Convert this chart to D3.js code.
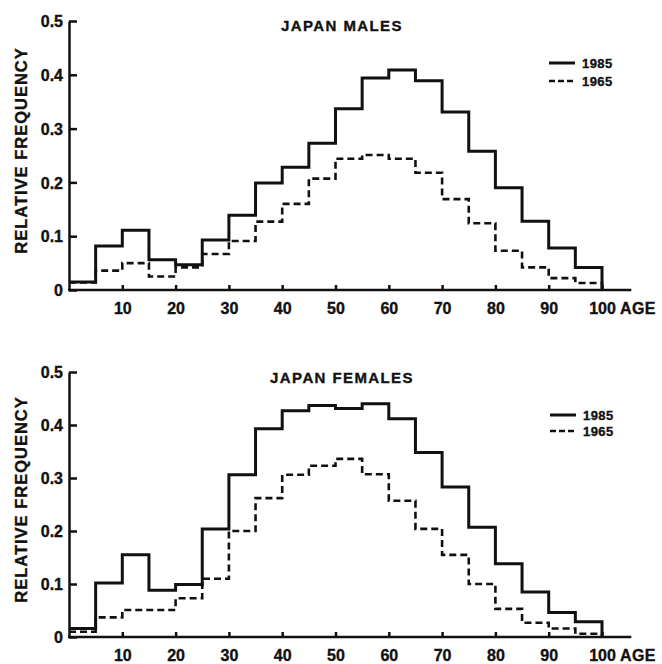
<!DOCTYPE html>
<html>
<head>
<meta charset="utf-8">
<script src="https://cdn.jsdelivr.net/npm/d3@7/dist/d3.min.js"></script>
<style>
  html, body { margin: 0; padding: 0; background: #fff; }
  svg text { font-family: "Liberation Sans", Arial, Helvetica, sans-serif; font-weight: bold;
             fill: #111; stroke: #111; stroke-width: 0.35px; }
</style>
</head>
<body>
<div id="chart"></div>
<script>
// age groups, left edge of each 5-year bin
const ageBins = [0, 5, 10, 15, 20, 25, 30, 35, 40, 45, 50, 55, 60, 65, 70, 75, 80, 85, 90, 95];
const binWidth = 5;

const years = ['1985', '1965'];

const males1985 = [0.015, 0.082, 0.111, 0.056, 0.047, 0.093, 0.139, 0.199, 0.228, 0.273,
                   0.337, 0.394, 0.409, 0.389, 0.331, 0.258, 0.190, 0.128, 0.078, 0.042];
const males1965 = [0.014, 0.036, 0.050, 0.025, 0.042, 0.067, 0.091, 0.127, 0.160, 0.207,
                   0.244, 0.251, 0.244, 0.218, 0.169, 0.124, 0.073, 0.042, 0.022, 0.013];

const females1985 = [0.016, 0.102, 0.155, 0.088, 0.099, 0.204, 0.306, 0.393, 0.427, 0.437,
                     0.431, 0.440, 0.412, 0.348, 0.283, 0.207, 0.138, 0.085, 0.046, 0.029];
const females1965 = [0.010, 0.037, 0.051, 0.051, 0.073, 0.110, 0.200, 0.262, 0.306, 0.323,
                     0.336, 0.307, 0.257, 0.204, 0.155, 0.100, 0.053, 0.027, 0.016, 0.006];

const yTicks = [0, 0.1, 0.2, 0.3, 0.4, 0.5];
const yTickLabels = ['0', '0.1', '0.2', '0.3', '0.4', '0.5'];
const xTicks = [10, 20, 30, 40, 50, 60, 70, 80, 90, 100];
const xTickLabels = ['10', '20', '30', '40', '50', '60', '70', '80', '90', '100'];

const W = 662, H = 664;
const svg = d3.select('#chart').append('svg')
  .attr('width', W).attr('height', H)
  .attr('viewBox', `0 0 ${W} ${H}`);

const x = d3.scaleLinear().domain([0, 100]).range([69, 602]);
const axisEnd = 105.5;

const panels = [
  { title: 'JAPAN MALES', data: [males1985, males1965], top: 21, bottom: 290,
    titleY: 31, legendY: [63, 81], legendX: 549 },
  { title: 'JAPAN FEMALES', data: [females1985, females1965], top: 372, bottom: 637,
    titleY: 383, legendY: [415, 431], legendX: 550 }
];

panels.forEach(p => {
  const g = svg.append('g');
  const y = d3.scaleLinear().domain([0, 0.5]).range([p.bottom, p.top]);

  // y axis, ticks pointing inward
  const yAxis = g.append('g').attr('transform', `translate(${x(0)},0)`)
    .call(d3.axisLeft(y).tickValues(yTicks).tickSize(-8).tickSizeOuter(0).tickPadding(6)
      .tickFormat((d, i) => yTickLabels[i]));
  yAxis.select('.domain').attr('stroke', '#111').attr('stroke-width', 2.5);
  yAxis.selectAll('line').attr('stroke', '#111').attr('stroke-width', 2.5);
  yAxis.selectAll('text').style('font-size', '16px').attr('dy', '0.36em');

  // x axis, ticks pointing up
  const xAxis = g.append('g').attr('transform', `translate(0,${p.bottom})`)
    .call(d3.axisBottom(x).tickValues(xTicks).tickSize(-5).tickSizeOuter(0).tickPadding(13)
      .tickFormat((d, i) => xTickLabels[i]));
  xAxis.select('.domain').remove();
  xAxis.selectAll('line').attr('stroke', '#111').attr('stroke-width', 2.5);
  xAxis.selectAll('text').style('font-size', '16px');
  g.append('line')
    .attr('x1', x(0) - 1).attr('x2', x(axisEnd))
    .attr('y1', p.bottom).attr('y2', p.bottom)
    .attr('stroke', '#111').attr('stroke-width', 2.5);
  g.append('text').text('AGE')
    .attr('x', x(100) + 18).attr('y', p.bottom + 13).attr('dy', '0.71em')
    .style('font-size', '16px').style('letter-spacing', '0.4px');

  // axis title
  g.append('text').text('RELATIVE FREQUENCY')
    .attr('transform', `translate(27,${(p.top + p.bottom) / 2 - 5}) rotate(-90)`)
    .attr('text-anchor', 'middle')
    .style('font-size', '16.5px').style('letter-spacing', '1px');

  // panel title
  g.append('text').text(p.title)
    .attr('x', 342).attr('y', p.titleY).attr('text-anchor', 'middle')
    .style('font-size', '15px').style('letter-spacing', '1.4px');

  // step histograms
  const line = d3.line().x(d => x(d[0])).y(d => y(d[1])).curve(d3.curveStepAfter);
  p.data.forEach((vals, si) => {
    const pts = ageBins.map((a, i) => [a, vals[i]]);
    pts.push([ageBins[ageBins.length - 1] + binWidth, vals[vals.length - 1]]);
    pts.push([ageBins[ageBins.length - 1] + binWidth, 0]);
    g.append('path')
      .attr('d', line(pts))
      .attr('fill', 'none')
      .attr('stroke', '#111')
      .attr('stroke-width', si === 0 ? 3 : 2.6)
      .attr('stroke-dasharray', si === 0 ? null : '7,4');
  });

  // legend
  years.forEach((yr, si) => {
    const ly = p.legendY[si];
    g.append('line')
      .attr('x1', p.legendX).attr('x2', p.legendX + 26)
      .attr('y1', ly).attr('y2', ly)
      .attr('stroke', '#111').attr('stroke-width', si === 0 ? 3 : 2.6)
      .attr('stroke-dasharray', si === 0 ? null : '6,3');
    g.append('text').text(yr)
      .attr('x', p.legendX + 33).attr('y', ly).attr('dy', '0.36em')
      .style('font-size', '13px').style('letter-spacing', '0.4px');
  });
});
</script>
</body>
</html>
